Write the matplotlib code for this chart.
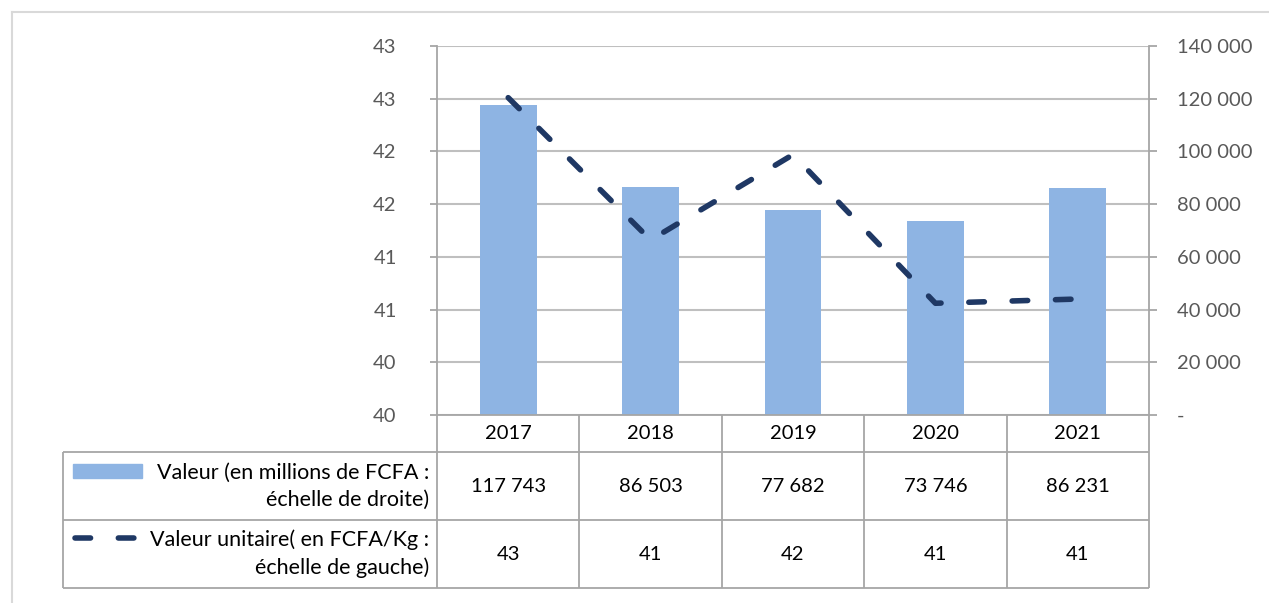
import matplotlib
matplotlib.use("Agg")
import matplotlib.pyplot as plt
import matplotlib.transforms as mtransforms
from matplotlib.lines import Line2D
from matplotlib.patches import Rectangle
from matplotlib.ticker import FuncFormatter

# data
years = ["2017", "2018", "2019", "2020", "2021"]
valeur = [117743, 86503, 77682, 73746, 86231]            # millions de FCFA (right scale)
valeur_unitaire = [42.76, 41.41, 42.22, 40.81, 40.85]     # FCFA/Kg (left scale)

label_valeur = "Valeur (en millions de FCFA :\néchelle de droite)"
label_unitaire = "Valeur unitaire( en FCFA/Kg :\néchelle de gauche)"

left_ticks = [39.75 + 0.5 * i for i in range(8)]
right_ticks = list(range(0, 140001, 20000))

BAR = "#8EB4E3"
LINE = "#1F3864"
GRID = "#BFBFBF"
AXIS = "#A6A6A6"
TICK_TXT = "#595959"
FS = 14.5
FS_HEAD = 15.5
LW = 4.0
DASH = (2.8, 5.0)

plt.rcParams['font.family'] = ['Lato', 'DejaVu Sans']

W, H = 1269, 603
fig = plt.figure(figsize=(W / 100, H / 100), dpi=100)


def fx(px):
    return px / W


def fy(py):
    return 1 - py / H


# plot area in pixels
x0, x1, y0, y1 = 437, 1149, 46, 415
ax = fig.add_axes([fx(x0), fy(y1), fx(x1 - x0), (y1 - y0) / H])
ax2 = ax.twinx()

xs = list(range(len(years)))

# bars on the right scale
ax2.bar(xs, valeur, width=0.4, color=BAR, zorder=2)
ax2.set_ylim(0, 140000)
ax2.set_yticks(right_ticks)
ax2.yaxis.set_major_formatter(FuncFormatter(
    lambda v, p: "-" if v == 0 else f"{v:,.0f}".replace(",", " ")))
ax2.yaxis.grid(True, color=GRID, lw=1.5)
ax2.set_axisbelow(True)
ax2.tick_params(axis='y', direction='out', length=6, width=1.3, color=AXIS,
                pad=14, labelcolor=TICK_TXT, labelsize=FS)

# dashed line on the left scale, drawn above the bars
ax.set_zorder(ax2.get_zorder() + 1)
ax.patch.set_visible(False)
ax.plot(xs, valeur_unitaire, color=LINE, lw=LW, dashes=DASH,
        dash_capstyle='round')
ax.set_ylim(39.75, 43.25)
ax.set_yticks(left_ticks)
ax.yaxis.set_major_formatter(FuncFormatter(lambda v, p: f"{v:.0f}"))
ax.tick_params(axis='y', direction='out', length=5, width=1.3, color=AXIS,
               pad=24, labelcolor=TICK_TXT, labelsize=FS)
ax.set_xlim(-0.5, len(years) - 0.5)
ax.set_xticks([])

for a in (ax, ax2):
    for s in a.spines.values():
        s.set_visible(False)
ax.spines['left'].set_visible(True)
ax.spines['left'].set_color(AXIS)
ax.spines['left'].set_linewidth(1.3)
ax2.spines['right'].set_visible(True)
ax2.spines['right'].set_color(AXIS)
ax2.spines['right'].set_linewidth(1.3)
ax2.spines['bottom'].set_visible(True)
ax2.spines['bottom'].set_color(AXIS)
ax2.spines['bottom'].set_linewidth(1.3)

# data table under the plot
tleft, r1, r2, r3 = 63, 452, 520, 588
tab_kw = dict(color=AXIS, lw=1.3, solid_capstyle='butt')
for yy in (r1, r2, r3):
    fig.add_artist(Line2D([fx(tleft), fx(x1)], [fy(yy), fy(yy)], **tab_kw))
fig.add_artist(Line2D([fx(tleft), fx(tleft)], [fy(r1), fy(r3)], **tab_kw))
fig.add_artist(Line2D([fx(x0), fx(x0)], [fy(y1), fy(r3)], **tab_kw))
fig.add_artist(Line2D([fx(x1), fx(x1)], [fy(y1), fy(r3)], **tab_kw))

colx = mtransforms.blended_transform_factory(ax.transData, fig.transFigure)
for i in range(1, len(years)):
    ax.add_line(Line2D([i - 0.5, i - 0.5], [fy(y1), fy(r3)], transform=colx,
                       clip_on=False, **tab_kw))

for i, yr in enumerate(years):
    ax.text(i, fy((y1 + r1) / 2), yr, transform=colx, ha='center', va='center',
            fontsize=FS, color='black')
    ax.text(i, fy((r1 + r2) / 2), f"{valeur[i]:,}".replace(",", " "), transform=colx,
            ha='center', va='center', fontsize=FS, color='black')
    ax.text(i, fy((r2 + r3) / 2), f"{valeur_unitaire[i]:.0f}", transform=colx,
            ha='center', va='center', fontsize=FS, color='black')

fig.text(fx(429), fy((r1 + r2) / 2), label_valeur, ha='right', va='center',
         multialignment='right', fontsize=FS_HEAD, linespacing=1.45, color='black')
fig.text(fx(429), fy((r2 + r3) / 2), label_unitaire, ha='right', va='center',
         multialignment='right', fontsize=FS_HEAD, linespacing=1.45, color='black')

# legend keys in the row headers
fig.add_artist(Rectangle((fx(73), fy(478)), fx(69), 14 / H, color=BAR,
                         transform=fig.transFigure))
fig.add_artist(Line2D([fx(74.8), fx(134.2)], [fy(538), fy(538)], color=LINE, lw=LW,
                      dashes=DASH, dash_capstyle='round'))

# light outer frame
fig.add_artist(Line2D([fx(12), fx(12)], [fy(12), 0], color="#D9D9D9", lw=1.5))
fig.add_artist(Line2D([fx(12), 1], [fy(12), fy(12)], color="#D9D9D9", lw=1.5))

fig.savefig("out.png", dpi=100)
